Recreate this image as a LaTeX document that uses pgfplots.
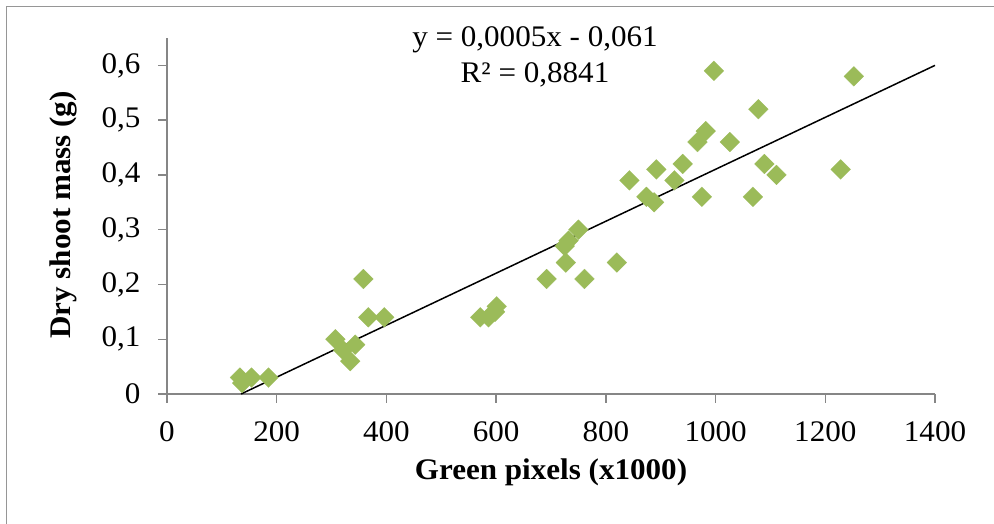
\documentclass[border=0pt]{standalone}
\usepackage{fontspec}
\setmainfont{Liberation Serif}[FakeStretch=1.04]
\usepackage{pgfplots}
\pgfplotsset{compat=1.18}

\definecolor{ptgreen}{RGB}{155,187,89}
\definecolor{axgray}{RGB}{134,134,134}
\definecolor{framegray}{RGB}{150,150,150}

\begin{document}
\begin{tikzpicture}[x=1bp,y=1bp]
  \path[use as bounding box] (0,0) rectangle (994,524);
  \fill[white] (0,0) rectangle (994,524);
  % chart frame (only top and left edges are visible)
  \draw[framegray, line width=1bp] (6,0) -- (6,517) -- (994,517);

  \begin{axis}[
      at={(167bp,130bp)}, anchor=south west,
      scale only axis,
      width=768bp, height=356bp,
      xmin=0, xmax=1400,
      ymin=0, ymax=0.65,
      xtick={0,200,...,1400},
      ytick={0,0.1,0.2,0.3,0.4,0.5,0.6},
      axis lines=left,
      axis line style={-, draw=axgray, line width=1.4bp},
      tick style={draw=axgray, line width=1.4bp},
      tick align=outside,
      major tick length=9bp,
      tick label style={font=\fontsize{30}{34}\selectfont},
      xticklabel style={yshift=-15bp},
      yticklabel style={xshift=-14bp, /pgf/number format/fixed,
        /pgf/number format/precision=1, /pgf/number format/use comma},
      /pgf/number format/assume math mode=true,
      /pgf/number format/1000 sep={},
      clip=false,
    ]

    \addplot[only marks, mark=square*, mark size=7bp,
      mark options={rotate=45, fill=ptgreen, draw=ptgreen, line width=0.2bp}]
    table {
      133 0.03
      137 0.02
      154 0.03
      185 0.03
      307 0.10
      321 0.08
      334 0.06
      343 0.09
      358 0.21
      367 0.14
      396 0.14
      571 0.14
      586 0.14
      598 0.15
      601 0.16
      692 0.21
      725 0.27
      727 0.24
      732 0.28
      750 0.30
      761 0.21
      820 0.24
      843 0.39
      874 0.36
      888 0.35
      892 0.41
      925 0.39
      940 0.42
      967 0.46
      975 0.36
      982 0.48
      997 0.59
      1026 0.46
      1068 0.36
      1078 0.52
      1089 0.42
      1111 0.40
      1228 0.41
      1252 0.58
    };

    % linear trendline
    \addplot[black, line width=1.5bp] coordinates {(135,0) (1400,0.6)};
  \end{axis}

  \node[anchor=base, font=\fontsize{30}{34}\selectfont] at (535,477) {y = 0,0005x - 0,061};
  \node[anchor=base, font=\fontsize{30}{34}\selectfont] at (535,441) {R² = 0,8841};

  \node[font=\fontsize{30}{34}\selectfont\bfseries] at (551,52) {Green pixels (x1000)};
  \node[rotate=90, font=\fontsize{30}{34}\selectfont\bfseries] at (63,309) {Dry shoot mass (g)};
\end{tikzpicture}
\end{document}
